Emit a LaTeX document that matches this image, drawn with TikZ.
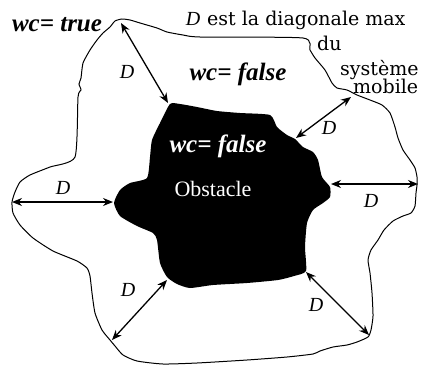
\documentclass[tikz,border=0pt]{standalone}
\usepackage{fontspec}
\usepackage{tikz}
\usetikzlibrary{arrows.meta, positioning}
\setmainfont{Liberation Serif}
\newfontfamily\notefont{DejaVu Serif}
\tikzstyle{wlbl}=[inner sep=0pt, anchor=base, font=\fontsize{25}{30}\selectfont\bfseries\itshape]
\tikzstyle{dlbl}=[inner sep=0pt, font=\fontsize{20}{24}\selectfont\itshape]
\tikzstyle{nlbl}=[inner sep=0pt, anchor=base west, font=\notefont\fontsize{19}{23}\selectfont]
\tikzstyle{darr}=[{Stealth[length=10pt, width=8pt]}-{Stealth[length=10pt, width=8pt]}, line width=1.3pt]
\tikzstyle{edge}=[line width=1pt, black]

\begin{document}
\begin{tikzpicture}[x=1pt, y=-1pt]
        \useasboundingbox (0,0) rectangle (422,367);
        % zone wc = true
        \draw[edge] plot[smooth cycle, tension=0.35] coordinates {
          (122,19) (130,20) (140,23) (157,28) (167,32) (183,35) (200,37)
          (303,38) (310,50) (315,58) (325,70) (332,83) (337,88) (347,90)
          (357,95) (370,100) (382,105) (390,113) (395,127) (398,138)
          (403,150) (410,160) (415,168) (417,177) (417,185) (416,193)
          (415,206) (411,213) (403,216) (393,221) (384,230) (378,240)
          (371,250) (368,260) (370,273) (372,293) (373,316) (371,330)
          (368,337) (357,342) (347,345) (333,347) (320,351) (313,354)
          (287,357) (247,360) (197,363) (163,364) (137,361) (123,355)
          (115,346) (110,340) (102,330) (95,313) (92,293) (90,276)
          (87,268) (77,261) (53,251) (33,238) (20,225) (13,213) (12,202)
          (15,192) (20,182) (30,175) (50,167) (75,157) (78,97) (81,90)
          (79,84) (81,78) (83,63) (90,50) (97,40) (103,33) (110,27) (115,21)};
        % obstacle
        \fill[black] plot[smooth cycle, tension=0.35] coordinates {
          (170,104) (180,104) (197,107) (217,111) (240,113) (270,115)
          (277,127) (287,135) (295,139) (303,147) (313,152) (318,160)
          (322,177) (330,187) (330,197) (323,203) (313,210) (307,223)
          (305,247) (306,271) (294,276) (278,280) (247,283) (213,285)
          (190,288) (177,284) (167,277) (160,263) (157,240) (153,233)
          (137,226) (120,216) (114,203) (120,190) (130,183) (147,178)
          (150,157) (152,140) (160,123)};
        \node[wlbl] (wtrue) at (57,31) {wc= true};
        \node[wlbl] (wfalse) at (238,80) {wc= false};
        \node[wlbl, text=white] (wobst) at (218,152) {wc= false};
        \node[inner sep=0pt, anchor=base, text=white, font=\fontsize{22}{26}\selectfont]
          (obst) at (213,196) {Obstacle};
        \node[inner sep=0pt, anchor=base, font=\fontsize{20}{24}\selectfont\itshape]
          (nD) at (193,25) {D};
        \node[nlbl] (n1) at (207,25) {est la diagonale max};
        \node[nlbl] (n2) at (317,50) {du};
        \node[nlbl] (n3) at (340,75) {système};
        \node[nlbl] (n4) at (353,93) {mobile};
        % distance D
        \coordinate (o1) at (121,23);  \coordinate (b1) at (168,103);
        \coordinate (o2) at (351,97);  \coordinate (b2) at (296,138);
        \coordinate (o3) at (12,202);  \coordinate (b3) at (113,202);
        \coordinate (o4) at (418,184); \coordinate (b4) at (331,184);
        \coordinate (o5) at (112,340); \coordinate (b5) at (167,280);
        \coordinate (o6) at (369,335); \coordinate (b6) at (306,272);
        \draw[darr] (o1)--(b1);
        \draw[darr] (o2)--(b2);
        \draw[darr] (o3)--(b3);
        \draw[darr] (o4)--(b4);
        \draw[darr] (o5)--(b5);
        \draw[darr] (o6)--(b6);
        \node[dlbl] (d1) at (127,72) {D};
        \node[dlbl] (d2) at (329,128) {D};
        \node[dlbl] (d3) at (63,188) {D};
        \node[dlbl] (d4) at (371,201) {D};
        \node[dlbl] (d5) at (128,290) {D};
        \node[dlbl] (d6) at (316,305) {D};
      \end{tikzpicture}
\end{document}
